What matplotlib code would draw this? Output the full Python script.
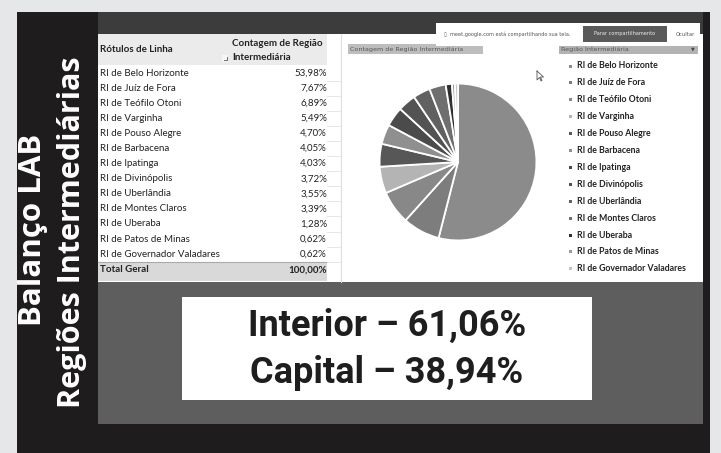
import matplotlib.pyplot as plt
from matplotlib.patches import Rectangle

regioes = ['RI de Belo Horizonte', 'RI de Juíz de Fora', 'RI de Teófilo Otoni', 'RI de Varginha',
           'RI de Pouso Alegre', 'RI de Barbacena', 'RI de Ipatinga', 'RI de Divinópolis',
           'RI de Uberlândia', 'RI de Montes Claros', 'RI de Uberaba', 'RI de Patos de Minas',
           'RI de Governador Valadares']
percentuais = [53.98, 7.67, 6.89, 5.49, 4.70, 4.05, 4.03, 3.72, 3.55, 3.39, 1.28, 0.62, 0.62]
total_geral = 100.00
cores = ['#8b8b8b', '#7d7d7d', '#888888', '#b4b4b4', '#575757', '#8f8f8f', '#4b4b4b',
         '#535353', '#616161', '#6f6f6f', '#2f2f2f', '#9a9a9a', '#c4c4c4']
titulo = ['Balanço LAB', 'Regiões Intermediárias']
resumo = ['Interior – 61,06%', 'Capital – 38,94%']

def fmt(v):
    return f'{v:.2f}'.replace('.', ',') + '%'

fig = plt.figure(figsize=(7.21, 4.53), dpi=100, facecolor='#e6e7e9')
ax = fig.add_axes([0, 0, 1, 1])
ax.set_xlim(0, 721)
ax.set_ylim(453, 0)
ax.axis('off')

def box(x0, y0, x1, y1, c, **kw):
    ax.add_patch(Rectangle((x0, y0), x1 - x0, y1 - y0, facecolor=c, edgecolor='none', **kw))

# slide background + screenshot
box(17, 12, 710, 453, '#1e1c1d')
box(98, 12, 703, 34, '#3c3c3c')
box(98, 34, 703, 282, 'white')
box(98, 282, 703, 424, '#5e5e5e')

# titles
ax.text(33, 230, titulo[0], rotation=90, ha='center', va='center', color='white',
        fontsize=22.5, fontfamily='Open Sans', fontweight='bold')
ax.text(72, 232, titulo[1], rotation=90, ha='center', va='center', color='white',
        fontsize=22, fontfamily='Open Sans', fontweight='bold')

# pivot table
tf = 'Lato'
box(98, 34, 327, 65, '#ebebeb')
box(98, 262, 327, 281, '#d9d9d9')
ax.plot([98, 327], [262, 262], color='#aaaaaa', lw=0.8)
ax.plot([341, 341], [34, 282], color='#dddddd', lw=0.8)
ax.text(100, 50, 'Rótulos de Linha', fontsize=7, fontweight='bold', fontfamily=tf,
        va='center', color='#222222')
ax.text(232, 43, 'Contagem de Região', fontsize=7, fontweight='bold', fontfamily=tf,
        va='center', ha='left', color='#222222')
ax.text(232, 58, 'Intermediária', fontsize=7, fontweight='bold', fontfamily=tf,
        va='center', ha='left', color='#222222')
box(222, 55, 228, 62, '#f6f6f6')
ax.plot([224, 226.5, 226.5], [59.5, 59.5, 57], color='#555555', lw=0.6)
row_y0, row_dy = 73, 15.1
for i, (r, v) in enumerate(zip(regioes, percentuais)):
    y = row_y0 + i * row_dy
    ax.text(100, y, r, fontsize=7, fontfamily=tf, va='center', color='#222222')
    ax.text(327, y, fmt(v), fontsize=7, fontfamily=tf, va='center', ha='right', color='#222222')
    ax.plot([327, 341], [y + row_dy / 2, y + row_dy / 2], color='#e2e2e2', lw=0.6)
ax.text(100, 270, 'Total Geral', fontsize=7, fontweight='bold', fontfamily=tf, va='center',
        color='#222222')
ax.text(327, 270, fmt(total_geral), fontsize=7, fontweight='bold', fontfamily=tf,
        va='center', ha='right', color='#222222')

# chart header fields
box(348, 44, 483, 54, '#bdbdbd')
ax.text(350, 49, 'Contagem de Região Intermediária', fontsize=4.6, va='center', color='#555555')
box(559, 44, 698, 54, '#b3b3b3')
ax.text(561, 49, 'Região Intermediária', fontsize=4.6, va='center', color='#555555')
ax.text(693, 49, '▼', fontsize=3.5, va='center', ha='center', color='#444444')

# legend
for i, (r, c) in enumerate(zip(regioes, cores)):
    y = 66 + i * 16.9
    box(569, y - 1.5, 572, y + 1.5, c)
    ax.text(577, y, r, fontsize=6.3, fontweight='bold', fontfamily=tf, va='center',
            color='#222222')

# google meet popup
box(436, 23, 700, 46, 'white', zorder=3)
ax.text(444, 34, '▯  meet.google.com está compartilhando sua tela.', fontsize=3.6,
        va='center', color='#555555', zorder=4)
box(583, 26, 667, 42, '#5a5a5a', zorder=4)
ax.text(625, 34, 'Parar compartilhamento', fontsize=3.6, va='center', ha='center',
        color='#eeeeee', zorder=5)
ax.text(685, 34, 'Ocultar', fontsize=3.8, va='center', ha='center', color='#555555', zorder=4)

# mouse cursor
ax.plot([537, 537, 539.5, 541, 542, 540.5, 543.5, 537], [71, 80, 77.5, 81, 80.5, 77, 77, 71],
        color='#555555', lw=0.6)

# pie
cx, cy, rad = 458, 162, 80
pax = fig.add_axes([(cx - rad) / 721, 1 - (cy + rad) / 453, 2 * rad / 721, 2 * rad / 453])
pax.pie(percentuais, colors=cores, startangle=90, counterclock=False,
        wedgeprops=dict(edgecolor='white', linewidth=1.3))
pax.set_xlim(-1.02, 1.02)
pax.set_ylim(-1.02, 1.02)
pax.axis('off')

# summary box
box(182, 297, 592, 400, 'white')
ax.text(387, 326, resumo[0], fontsize=26, fontweight='bold', fontfamily='Roboto',
        ha='center', va='center', color='#1e1e1e')
ax.text(387, 373, resumo[1], fontsize=26, fontweight='bold', fontfamily='Roboto',
        ha='center', va='center', color='#1e1e1e')

fig.savefig('out.png', dpi=100, facecolor=fig.get_facecolor())
